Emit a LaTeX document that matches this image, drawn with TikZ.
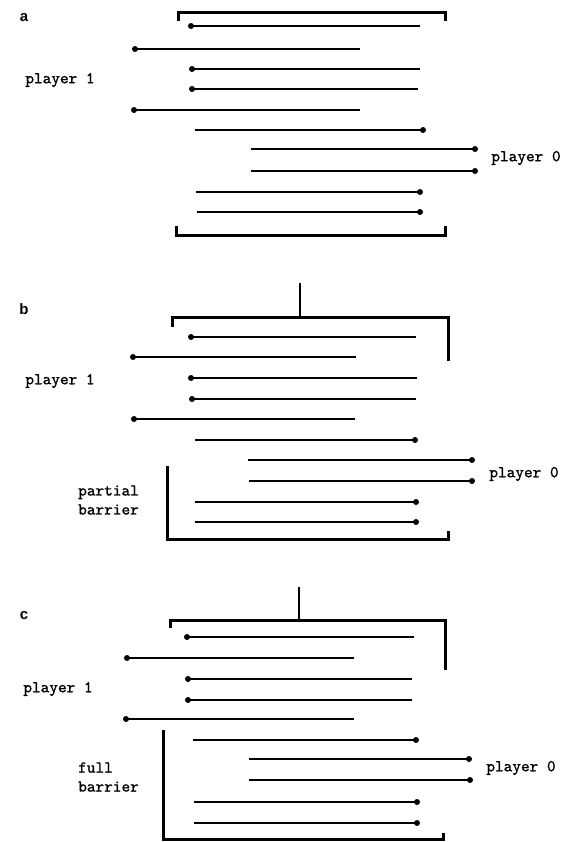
\documentclass[tikz,border=0pt]{standalone}
\usepackage{fontspec}
\setsansfont{Liberation Sans}
\newfontfamily\typewr{lmmono10-regular.otf}[FakeBold=1.1]
\begin{document}
\begin{tikzpicture}[x=1pt,y=-1pt,
  seg/.style={line width=1.5pt},
  dotmark/.style={fill=black},
  barline/.style={line width=3pt,line cap=rect},
  thin tick/.style={line width=1.2pt},
  lab/.style={font=\fontsize{16.5}{19}\selectfont\typewr,inner sep=0pt},
  panel/.style={font=\fontsize{15}{17}\selectfont\sffamily\bfseries,inner sep=0pt}]
\useasboundingbox (0,0) rectangle (564,842);
\fill[white] (0,0) rectangle (564,842);

% ---------- panel a ----------
\node[panel] (pa) at (24,18) {a};
\draw[barline] (178,20) -- (178,13) -- (445,13) -- (445,20);
\foreach \y/\a/\b in {26/191/420, 49/135/360, 69/192/420, 89/192/418, 110/134/360}{
  \coordinate (s) at (\a,\y); \coordinate (e) at (\b,\y);
  \draw[seg] (s) -- (e); \fill[dotmark] (s) circle (3pt);}
\foreach \y/\a/\b in {130/195/423, 149/251/475, 171/251/475, 192/196/420, 212/197/420}{
  \coordinate (s) at (\a,\y); \coordinate (e) at (\b,\y);
  \draw[seg] (s) -- (e); \fill[dotmark] (e) circle (3pt);}
\draw[barline] (176,227) -- (176,235) -- (445,235) -- (445,227);
\node[lab] (a1) at (60,80) {player 1};
\node[lab] (a0) at (526,158) {player 0};

% ---------- panel b ----------
\node[panel] (pb) at (24,309) {b};
\coordinate (bt) at (300,283); \coordinate (bb) at (300,317);
\draw[thin tick] (bt) -- (bb);
\draw[barline] (172,325) -- (172,317) -- (448,317) -- (448,359);
\foreach \y/\a/\b in {337/191/416, 357/133/356, 378/191/417, 399/192/416, 419/134/355}{
  \coordinate (s) at (\a,\y); \coordinate (e) at (\b,\y);
  \draw[seg] (s) -- (e); \fill[dotmark] (s) circle (3pt);}
\foreach \y/\a/\b in {440/195/415, 460/248/472, 481/249/472, 502/195/416, 522/195/416}{
  \coordinate (s) at (\a,\y); \coordinate (e) at (\b,\y);
  \draw[seg] (s) -- (e); \fill[dotmark] (e) circle (3pt);}
\draw[barline] (167,467) -- (167,539) -- (448,539) -- (448,532);
\node[lab] (b1) at (60,381) {player 1};
\node[lab] (b0) at (524,474) {player 0};
\node[lab,align=left,anchor=west] (bpb) at (78,500) {partial\\barrier};

% ---------- panel c ----------
\node[panel] (pc) at (24,616) {c};
\coordinate (ct) at (299,587); \coordinate (cb) at (299,620);
\draw[thin tick] (ct) -- (cb);
\draw[barline] (170,626) -- (170,620) -- (445,620) -- (445,668);
\foreach \y/\a/\b in {637/187/414, 658/127/354, 679/188/412, 700/188/412, 719/126/354}{
  \coordinate (s) at (\a,\y); \coordinate (e) at (\b,\y);
  \draw[seg] (s) -- (e); \fill[dotmark] (s) circle (3pt);}
\foreach \y/\a/\b in {740/193/416, 759/249/469, 780/249/470, 802/194/417, 823/194/417}{
  \coordinate (s) at (\a,\y); \coordinate (e) at (\b,\y);
  \draw[seg] (s) -- (e); \fill[dotmark] (e) circle (3pt);}
\draw[barline] (163,731) -- (163,839) -- (443,839) -- (443,834);
\node[lab] (c1) at (58,689) {player 1};
\node[lab] (c0) at (521,768) {player 0};
\node[lab,align=left,anchor=west] (cfb) at (78,777) {full\\barrier};
\end{tikzpicture}
\end{document}
